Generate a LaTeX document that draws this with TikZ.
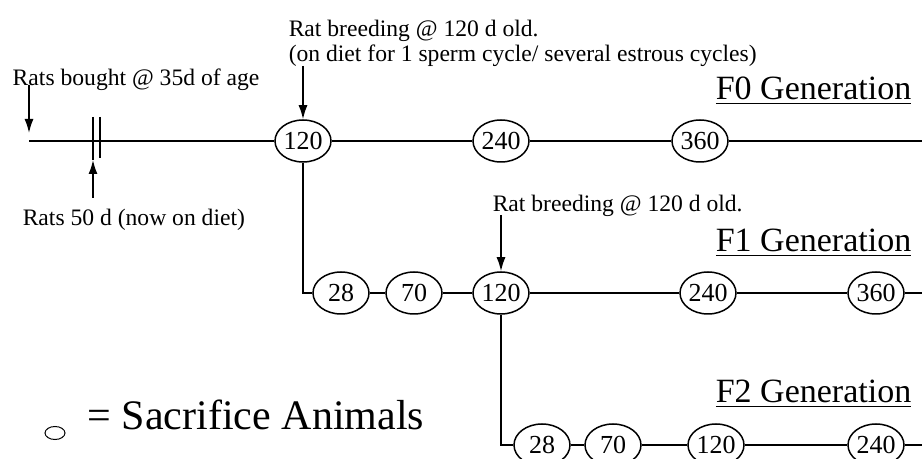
\documentclass[tikz,border=0pt]{standalone}
\usepackage{fontspec}
\setmainfont{Liberation Serif}
\usetikzlibrary{shapes.geometric,arrows.meta}

\begin{document}
\begin{tikzpicture}[
x=0.5pt, y=-0.5pt,
line width=0.75pt,
sac/.style={
draw,
ellipse,
inner sep=0pt,
minimum width=28pt,
minimum height=21pt,
font=\fontsize{13}{14}\selectfont
},
note/.style={
inner sep=0pt,
align=left,
font=\fontsize{11.8}{12.5}\selectfont
},
gen/.style={
inner sep=0pt,
anchor=base east,
font=\fontsize{17}{20}\selectfont
},
arr/.style={-{Latex[length=7pt,width=4.5pt]}}
]
\useasboundingbox (0,0) rectangle (922,459);

\node[sac] (f0a) at (303,141) {120};
\node[sac] (f0b) at (501,141) {240};
\node[sac] (f0c) at (700,141) {360};

\node[sac] (f1a) at (341,293) {28};
\node[sac] (f1b) at (414,293) {70};
\node[sac] (f1c) at (501,293) {120};
\node[sac] (f1d) at (708,293) {240};
\node[sac] (f1e) at (876,293) {360};

\node[sac] (f2a) at (542,445) {28};
\node[sac] (f2b) at (613,445) {70};
\node[sac] (f2c) at (716,445) {120};
\node[sac] (f2d) at (876,445) {240};

\node[note, anchor=base west] (bought) at (12,86) {Rats bought @ 35d of age};
\node[note, anchor=base west] (fifty) at (22,226) {Rats 50 d (now on diet)};
\node[note, anchor=north west] (breed0) at (288,19)
{Rat breeding @ 120 d old.\\(on diet for 1 sperm cycle/ several estrous cycles)};
\node[note, anchor=base west] (breed1) at (492,212) {Rat breeding @ 120 d old.};

\node[gen] (gen0) at (912,100) {\underline{F0 Generation}};
\node[gen] (gen1) at (912,252) {\underline{F1 Generation}};
\node[gen] (gen2) at (912,403) {\underline{F2 Generation}};

\node[draw, ellipse, line width=0.5pt, inner sep=0pt,
minimum width=10pt, minimum height=6.5pt] (key) at (55,433) {};
\node[inner sep=0pt, anchor=base west, font=\fontsize{21}{24}\selectfont]
(legend) at (87,430) {= Sacrifice Animals};

\coordinate (s0) at (29,141);
\coordinate (e0) at (922,141);
\coordinate (e1) at (922,293);
\coordinate (e2) at (922,445);
\coordinate (b1t) at (93,117);
\coordinate (b1b) at (93,160);
\coordinate (b2t) at (100,117);
\coordinate (b2b) at (100,158);
\coordinate (a0) at (29,85);
\coordinate (a0e) at (29,133);
\coordinate (a1) at (93,198);
\coordinate (a2) at (303,66);
\coordinate (a3) at (501,215);

\draw (s0) -- (f0a) -- (f0b) -- (f0c) -- (e0);
\draw (b1t) -- (b1b);
\draw (b2t) -- (b2b);
\draw[arr] (a0) -- (a0e);
\draw[arr] (a1) -- (b1b);
\draw[arr] (a2) -- (f0a);

\draw (f0a) |- (f1a);
\draw (f1a) -- (f1b) -- (f1c) -- (f1d) -- (f1e) -- (e1);
\draw[arr] (a3) -- (f1c);

\draw (f1c) |- (f2a);
\draw (f2a) -- (f2b) -- (f2c) -- (f2d) -- (e2);

\end{tikzpicture}
\end{document}
